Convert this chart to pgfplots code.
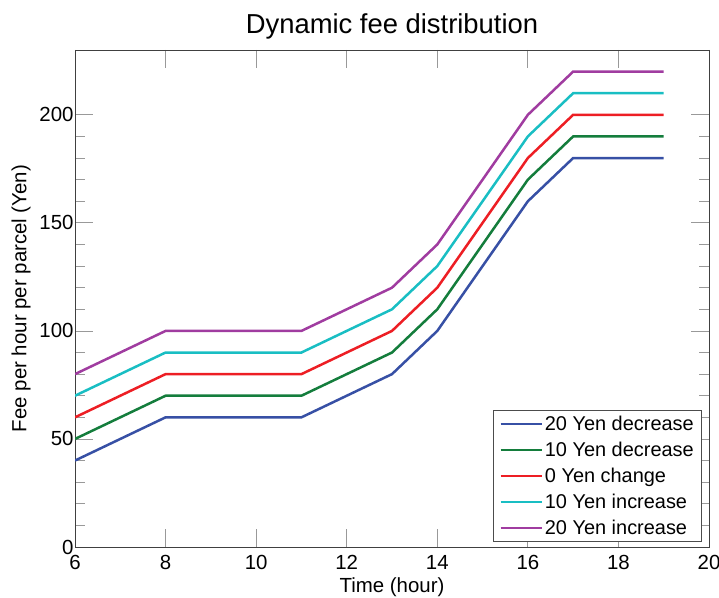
\documentclass[border=0pt]{standalone}
\usepackage{pgfplots}
\pgfplotsset{compat=1.18}
\usepackage{fontspec}
\setmainfont{Liberation Sans}
\definecolor{cA}{RGB}{55,80,165}
\definecolor{cB}{RGB}{20,125,60}
\definecolor{cC}{RGB}{237,30,36}
\definecolor{cD}{RGB}{25,190,195}
\definecolor{cE}{RGB}{160,60,160}
\begin{document}
\begin{tikzpicture}[x=1bp,y=1bp]
\useasboundingbox (-75,-51) rectangle (644,547);
\begin{axis}[
  at={(0,0)}, anchor=south west,
  scale only axis, width=634bp, height=497bp,
  xmin=6, xmax=20, ymin=0, ymax=230,
  xtick={6,8,...,20}, ytick={0,50,...,200},
  minor y tick num=4,
  tick align=inside,
  major tick length=18bp, minor tick length=10bp,
  every tick/.style={gray!80, line width=0.8bp},
  axis line style={black!75, line width=0.8bp},
  /pgf/number format/assume math mode=true,
  tick label style={font=\fontsize{20.5}{23}\selectfont},
  xticklabel style={yshift=-5bp},
  yticklabel style={xshift=2bp},
  title={Dynamic fee distribution},
  title style={font=\fontsize{27.5}{30}\selectfont, yshift=1bp},
  xlabel={Time (hour)},
  ylabel={Fee per hour per parcel (Yen)},
  label style={font=\fontsize{20.5}{23}\selectfont},
  xlabel style={yshift=-1bp},
  ylabel style={yshift=2bp},
  legend style={font=\fontsize{20}{22}\selectfont, draw=black!70, line width=0.6bp, row sep=6bp, inner xsep=6bp, inner ysep=4bp, at={(0.989,0.01)}, anchor=south east},
  legend cell align=left,
  legend image code/.code={\draw[#1, line width=2.5bp] (0bp,0bp) -- (41bp,0bp);},
  every axis plot/.append style={line width=2.5bp},
]
\addplot[cA] coordinates {(6,40)(8,60)(11,60)(13,80)(14,100)(16,160)(17,180)(19,180)};
\addlegendentry{20 Yen decrease}
\addplot[cB] coordinates {(6,50)(8,70)(11,70)(13,90)(14,110)(16,170)(17,190)(19,190)};
\addlegendentry{10 Yen decrease}
\addplot[cC] coordinates {(6,60)(8,80)(11,80)(13,100)(14,120)(16,180)(17,200)(19,200)};
\addlegendentry{0 Yen change}
\addplot[cD] coordinates {(6,70)(8,90)(11,90)(13,110)(14,130)(16,190)(17,210)(19,210)};
\addlegendentry{10 Yen increase}
\addplot[cE] coordinates {(6,80)(8,100)(11,100)(13,120)(14,140)(16,200)(17,220)(19,220)};
\addlegendentry{20 Yen increase}
\end{axis}
\end{tikzpicture}
\end{document}
